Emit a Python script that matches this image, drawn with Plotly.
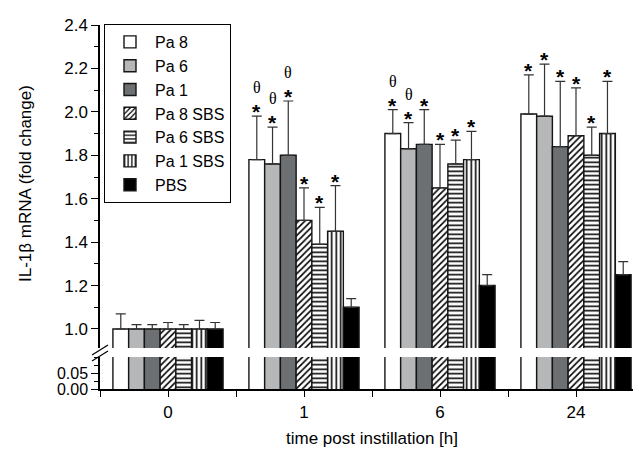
import plotly.graph_objects as go

categories = ["0", "1", "6", "24"]
series_names = ["Pa 8", "Pa 6", "Pa 1", "Pa 8 SBS", "Pa 6 SBS", "Pa 1 SBS", "PBS"]

pa8 = [1.00, 1.78, 1.90, 1.99]
pa6 = [1.00, 1.76, 1.83, 1.98]
pa1 = [1.00, 1.80, 1.85, 1.84]
pa8_sbs = [1.00, 1.50, 1.65, 1.89]
pa6_sbs = [1.00, 1.39, 1.76, 1.80]
pa1_sbs = [1.00, 1.45, 1.78, 1.90]
pbs = [1.00, 1.10, 1.20, 1.25]

err_pa8 = [0.07, 0.20, 0.11, 0.18]
err_pa6 = [0.02, 0.17, 0.12, 0.24]
err_pa1 = [0.02, 0.25, 0.16, 0.30]
err_pa8_sbs = [0.03, 0.15, 0.20, 0.22]
err_pa6_sbs = [0.02, 0.17, 0.11, 0.13]
err_pa1_sbs = [0.04, 0.21, 0.13, 0.24]
err_pbs = [0.03, 0.04, 0.05, 0.06]

# upper (broken) axis ticks and lower axis ticks
upper_ticks = [1.0, 1.2, 1.4, 1.6, 1.8, 2.0, 2.2, 2.4]
upper_minor = [1.1, 1.3, 1.5, 1.7, 1.9, 2.1, 2.3]
lower_ticks = [0.0, 0.05]

# significance marks: asterisk / theta per series per time point
star_marks = [[0, 1, 1, 1]] * 6 + [[0, 0, 0, 0]]
theta_marks = [[0, 1, 1, 0], [0, 1, 1, 0], [0, 1, 0, 0],
               [0, 0, 0, 0], [0, 0, 0, 0], [0, 0, 0, 0], [0, 0, 0, 0]]

values = [pa8, pa6, pa1, pa8_sbs, pa6_sbs, pa1_sbs, pbs]
errors = [err_pa8, err_pa6, err_pa1, err_pa8_sbs, err_pa6_sbs, err_pa1_sbs, err_pbs]

colors = ["#ffffff", "#b6b7b9", "#6c7073", "#ffffff", "#ffffff", "#ffffff", "#000000"]
patterns = ["", "", "", "/", "-", "|", ""]

x_pos = list(range(len(categories)))
BARGAP = 0.19

fig = go.Figure()

for i, name in enumerate(series_names):
    marker = dict(color=colors[i], line=dict(color="#151515", width=1.4))
    if patterns[i]:
        marker["pattern"] = dict(shape=patterns[i], fgcolor="#000000", bgcolor="#ffffff",
                                 size=4.5, solidity=0.35, fillmode="replace")
    fig.add_trace(go.Bar(
        x=x_pos, y=values[i], name=name, marker=marker, xaxis="x", yaxis="y",
        error_y=dict(type="data", symmetric=False, array=errors[i],
                     arrayminus=[0] * len(categories), color="#333333",
                     thickness=1.2, width=5),
    ))

# invisible helper trace so the lower (0.00-0.05) axis segment is drawn
fig.add_trace(go.Scatter(x=[x_pos[0]], y=[lower_ticks[0]], xaxis="x", yaxis="y2",
                         mode="markers", marker=dict(opacity=0), showlegend=False,
                         hoverinfo="skip"))

# annotations (asterisk / theta) above error bars
n = len(series_names)
w = (1 - BARGAP) / n
for i in range(n):
    off = -(1 - BARGAP) / 2 + w * (i + 0.5)
    for j in range(len(categories)):
        top = values[i][j] + errors[i][j]
        if star_marks[i][j]:
            fig.add_annotation(x=x_pos[j] + off, y=top, xref="x", yref="y",
                               text="<b>*</b>", showarrow=False, yanchor="bottom",
                               yshift=-8, borderpad=0,
                               font=dict(family="Liberation Sans", size=21, color="#000"))
        if theta_marks[i][j]:
            fig.add_annotation(x=x_pos[j] + off, y=top, xref="x", yref="y",
                               text="θ", showarrow=False, yanchor="bottom",
                               yshift=19, borderpad=0,
                               font=dict(family="Liberation Serif", size=16, color="#000"))

# pixel helpers for layout (plot area 100..633 x 25..389)
PL, PR, PT, PB = 100, 633, 25, 389
def px(xp):
    return (xp - PL) / (PR - PL)
def py(yp):
    return (PB - yp) / (PB - PT)

# white break gap across the plot
fig.add_shape(type="rect", xref="paper", yref="paper", layer="above",
              x0=px(97), x1=1.0, y0=py(357), y1=py(348),
              fillcolor="white", line=dict(width=0))
# break slashes on the y axis
for dy in (0, 6):
    fig.add_shape(type="line", xref="paper", yref="paper", layer="above",
                  x0=px(92), y0=py(355 + dy), x1=px(108), y1=py(345 + dy),
                  line=dict(color="#000", width=1.2))

# axis titles
fig.add_annotation(x=px(25), y=py(184), xref="paper", yref="paper",
                   xanchor="center", yanchor="middle",
                   text="IL-1β mRNA (fold change)", textangle=-90, showarrow=False,
                   font=dict(family="Liberation Sans", size=17, color="#000"))
fig.add_annotation(x=px(372), y=py(438), xref="paper", yref="paper",
                   xanchor="center", yanchor="middle",
                   text="time post instillation [h]", showarrow=False,
                   font=dict(family="Liberation Sans", size=17, color="#000"))

xr = [-0.5, -0.5 + (PR - PL) / 136]
y_bottom = 1 - (PB - 329) / 217.1
fig.update_layout(
    width=633, height=451,
    margin=dict(l=PL, r=633 - PR, t=PT, b=451 - PB),
    paper_bgcolor="white", plot_bgcolor="rgba(0,0,0,0)",
    barmode="group", bargap=BARGAP, bargroupgap=0,
    font=dict(family="Liberation Sans", size=17, color="#000"),
    legend=dict(x=px(104), y=py(24), xanchor="left", yanchor="top",
                bordercolor="#000", borderwidth=1, bgcolor="white",
                font=dict(size=16), tracegroupgap=0, itemwidth=40),
    showlegend=True,
    xaxis=dict(range=xr, domain=[0, 1], anchor="y", tickvals=x_pos, ticktext=categories,
               ticks="outside", ticklen=6, tickwidth=1.2, tickcolor="#000",
               minor=dict(dtick=1, tick0=0.5, ticks="outside", ticklen=6, tickcolor="#000"),
               showline=True, linecolor="#000", linewidth=2.2,
               showgrid=False, zeroline=False),
    yaxis=dict(domain=[0, 1.0], range=[y_bottom, 2.4], anchor="x",
               tickvals=upper_ticks, tickformat=".1f",
               ticks="outside", ticklen=7, tickwidth=1.2, tickcolor="#000",
               minor=dict(tickmode="array", tickvals=upper_minor, ticks="outside",
                          ticklen=4, tickcolor="#000"),
               showline=True, linecolor="#000", linewidth=1.5,
               showgrid=False, zeroline=False),
    yaxis2=dict(domain=[0.0, py(357)], range=[0, 0.1], anchor="x",
                tickvals=lower_ticks, tickformat=".2f", tickfont=dict(size=16),
                ticks="outside", ticklen=7, tickwidth=1.2, tickcolor="#000",
                minor=dict(dtick=0.025, tick0=0, ticks="outside", ticklen=4, tickcolor="#000"),
                showline=True, linecolor="#000", linewidth=1.5,
                showgrid=False, zeroline=False),
)

fig.write_html("out.html")
